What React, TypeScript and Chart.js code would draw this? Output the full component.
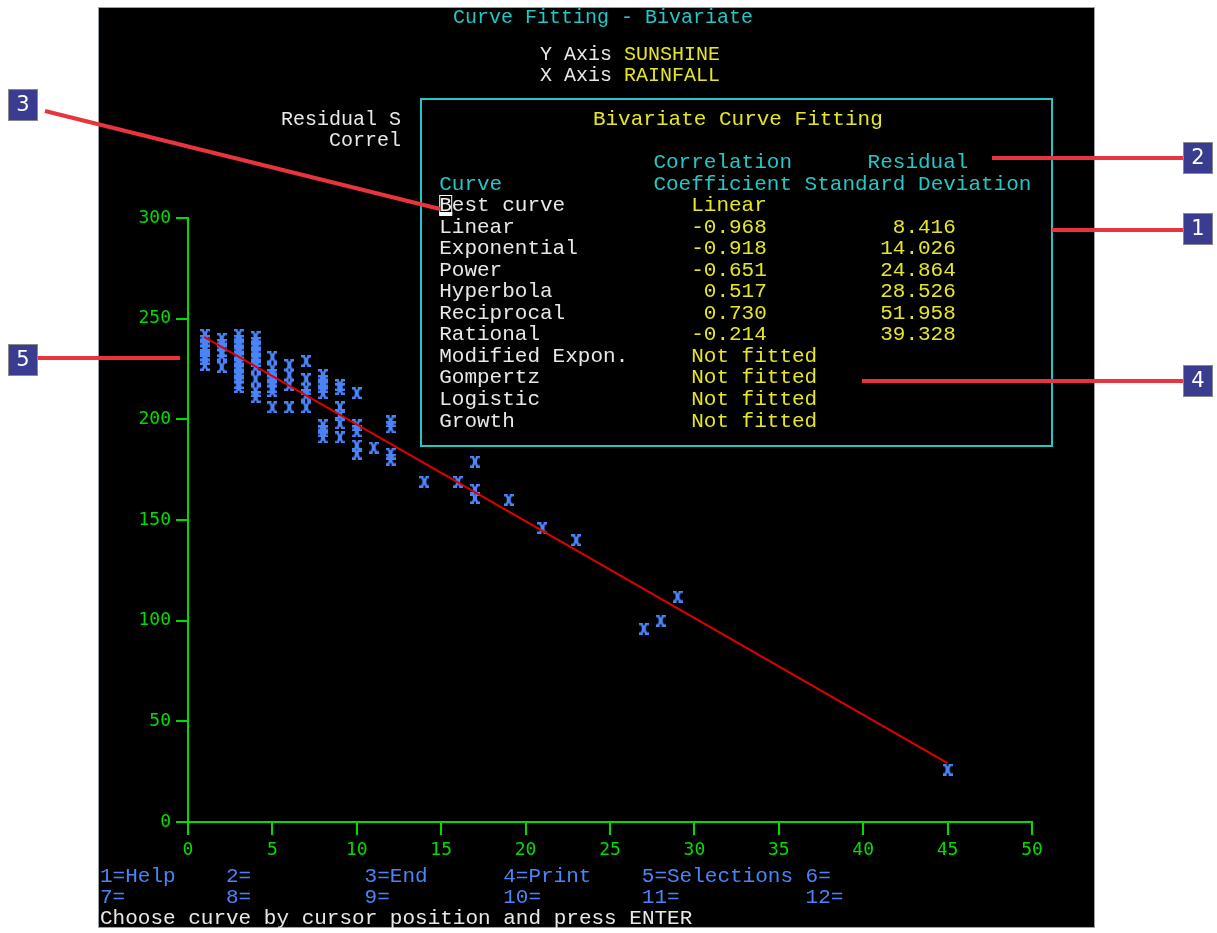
import React, { useEffect, useRef } from "react";
import { Chart, registerables } from "chart.js";

Chart.register(...registerables);

// ---------- data ----------
const rainfall: number[] = [
  1, 1, 1, 1, 1, 1, 1,
  2, 2, 2, 2, 2,
  3, 3, 3, 3, 3, 3, 3, 3, 3, 3,
  4, 4, 4, 4, 4, 4, 4, 4, 4,
  5, 5, 5, 5, 5, 5, 5,
  6, 6, 6, 6,
  7, 7, 7, 7, 7,
  8, 8, 8, 8, 8, 8, 8,
  9, 9, 9, 9, 9, 9,
  10, 10, 10, 10, 10,
  11,
  12, 12, 12, 12,
  14, 16, 17, 17, 17, 19, 21, 23, 27, 28, 29, 45,
];
const sunshine: number[] = [
  242, 239, 236, 234, 232, 230, 227,
  240, 237, 234, 232, 226,
  242, 239, 236, 233, 230, 227, 224, 221, 218, 216,
  241, 238, 235, 232, 229, 226, 220, 214, 211,
  231, 225, 222, 219, 216, 214, 206,
  227, 222, 217, 206,
  229, 220, 215, 212, 206,
  222, 219, 216, 213, 197, 194, 191,
  217, 215, 206, 202, 198, 191,
  213, 197, 194, 187, 183,
  186,
  199, 196, 183, 180,
  169, 169, 179, 165, 161, 160, 146, 140, 96, 100, 112, 26,
];
const fitX: number[] = [0.95, 45];
const fitY: number[] = [241, 29.3];

const xTicks: number[] = [0, 5, 10, 15, 20, 25, 30, 35, 40, 45, 50];
const yTicks: number[] = [0, 50, 100, 150, 200, 250, 300];

const curveNames: string[] = [
  "Linear", "Exponential", "Power", "Hyperbola", "Reciprocal", "Rational",
  "Modified Expon.", "Gompertz", "Logistic", "Growth",
];
const correlations: (string | null)[] = ["-0.968", "-0.918", "-0.651", " 0.517", " 0.730", "-0.214", null, null, null, null];
const residuals: (string | null)[] = ["8.416", "14.026", "24.864", "28.526", "51.958", "39.328", null, null, null, null];
const bestCurve = "Linear";

const fkeyRow1: [number, string][] = [[0, "1=Help"], [10, "2="], [21, "3=End"], [32, "4=Print"], [43, "5=Selections"], [56, "6="]];
const fkeyRow2: [number, string][] = [[0, "7="], [10, "8="], [21, "9="], [32, "10="], [43, "11="], [56, "12="]];

// ---------- styles ----------
const GREEN = "#00dc00";
const BLUE = "#4a84f8";
const CYAN = "#22c8c8";
const YELLOW = "#e6e628";
const WHITE = "#e8e8e8";
const RED_FIT = "#e00000";
const RED_CALL = "#e8343c";
const MONO = '"Liberation Mono", "DejaVu Sans Mono", monospace';

function makeGlyph(): HTMLCanvasElement {
  const c = document.createElement("canvas");
  c.width = 10;
  c.height = 12;
  const g = c.getContext("2d")!;
  g.strokeStyle = BLUE;
  g.lineWidth = 2.4;
  g.beginPath();
  g.moveTo(0, 1.2); g.lineTo(4, 1.2);
  g.moveTo(6, 1.2); g.lineTo(10, 1.2);
  g.moveTo(0, 10.8); g.lineTo(4, 10.8);
  g.moveTo(6, 10.8); g.lineTo(10, 10.8);
  g.moveTo(2.5, 1); g.quadraticCurveTo(6, 6, 2.5, 11);
  g.moveTo(7.5, 1); g.quadraticCurveTo(4, 6, 7.5, 11);
  g.stroke();
  return c;
}

const bgPlugin = {
  id: "bg",
  beforeDraw(chart: any) {
    const ctx = chart.ctx;
    ctx.save();
    ctx.fillStyle = "#ffffff";
    ctx.fillRect(0, 0, chart.width, chart.height);
    ctx.fillStyle = "#000000";
    ctx.fillRect(98, 7, 997, 921);
    ctx.strokeStyle = "#9aa0a8";
    ctx.lineWidth = 1;
    ctx.strokeRect(98.5, 7.5, 996, 920);
    ctx.restore();
  },
};

function callout(ctx: CanvasRenderingContext2D, label: string, bx: number, by: number, x1: number, y1: number, x2: number, y2: number) {
  ctx.strokeStyle = RED_CALL;
  ctx.lineWidth = 4;
  ctx.beginPath();
  ctx.moveTo(x1, y1);
  ctx.lineTo(x2, y2);
  ctx.stroke();
  ctx.fillStyle = "#3a3d8f";
  ctx.fillRect(bx, by, 30, 32);
  ctx.strokeStyle = "#8a8a8a";
  ctx.lineWidth = 1;
  ctx.strokeRect(bx + 0.5, by + 0.5, 29, 31);
  ctx.fillStyle = "#ffffff";
  ctx.font = '21px "DejaVu Sans", sans-serif';
  ctx.textAlign = "center";
  ctx.textBaseline = "middle";
  ctx.fillText(label, bx + 15, by + 17);
}

const overlayPlugin = {
  id: "overlay",
  afterDraw(chart: any) {
    const ctx: CanvasRenderingContext2D = chart.ctx;
    ctx.save();
    ctx.textBaseline = "middle";
    ctx.font = `20px ${MONO}`;

    // header texts
    ctx.fillStyle = CYAN;
    ctx.textAlign = "center";
    ctx.fillText("Curve Fitting - Bivariate", 603, 18);
    ctx.textAlign = "left";
    ctx.fillStyle = WHITE;
    ctx.fillText("Y Axis ", 540, 55);
    ctx.fillText("X Axis ", 540, 76);
    const w7 = ctx.measureText("Y Axis ").width;
    ctx.fillStyle = YELLOW;
    ctx.fillText("SUNSHINE", 540 + w7, 55);
    ctx.fillText("RAINFALL", 540 + w7, 76);
    ctx.fillStyle = WHITE;
    ctx.textAlign = "right";
    ctx.fillText("Residual S", 401, 120);
    ctx.fillText("Correl", 401, 141);

    // box
    ctx.fillStyle = "#000000";
    ctx.fillRect(421, 99, 631, 347);
    ctx.strokeStyle = CYAN;
    ctx.lineWidth = 2;
    ctx.strokeRect(421, 99, 631, 347);

    const cw = 12.6;
    const col = (c: number) => 99 + c * cw;
    ctx.font = `21px ${MONO}`;
    ctx.textAlign = "left";
    ctx.fillStyle = YELLOW;
    ctx.fillText("Bivariate Curve Fitting", col(39.2), 119);
    ctx.fillStyle = CYAN;
    ctx.fillText("Correlation", col(44), 162);
    ctx.fillText("Residual", col(61), 162);
    ctx.fillText("Curve", col(27), 184);
    ctx.fillText("Coefficient Standard Deviation", col(44), 184);
    ctx.fillStyle = WHITE;
    ctx.fillText("Best curve", col(27), 205);
    ctx.fillStyle = YELLOW;
    ctx.fillText(bestCurve, col(47), 205);
    // cursor on B
    ctx.strokeStyle = "#ffffff";
    ctx.lineWidth = 1;
    ctx.strokeRect(col(27) + 0.5, 195.5, 12, 19);
    ctx.fillStyle = "#ffffff";
    ctx.fillRect(col(27), 212, 13, 4);

    curveNames.forEach((name, i) => {
      const y = 227 + i * 21.55;
      ctx.textAlign = "left";
      ctx.fillStyle = WHITE;
      ctx.fillText(name, col(27), y);
      ctx.fillStyle = YELLOW;
      const c = correlations[i];
      const r = residuals[i];
      if (c === null) {
        ctx.fillText("Not fitted", col(47), y);
      } else {
        ctx.textAlign = "right";
        ctx.fillText(c, col(53), y);
        if (r !== null) ctx.fillText(r, col(68), y);
      }
    });

    // bottom function keys
    ctx.textAlign = "left";
    ctx.fillStyle = BLUE;
    fkeyRow1.forEach(([c, t]) => ctx.fillText(t, 100 + c * cw, 876));
    fkeyRow2.forEach(([c, t]) => ctx.fillText(t, 100 + c * cw, 897));
    ctx.fillStyle = WHITE;
    ctx.fillText("Choose curve by cursor position and press ENTER", 100, 918);

    // callouts
    callout(ctx, "3", 8, 89, 45, 111, 440, 209);
    callout(ctx, "5", 8, 344, 38, 358, 180, 358);
    callout(ctx, "2", 1183, 142, 992, 158, 1183, 158);
    callout(ctx, "1", 1183, 213, 1052, 230, 1183, 230);
    callout(ctx, "4", 1183, 365, 862, 381, 1183, 381);
    ctx.restore();
  },
};

export default function App() {
  const ref = useRef<HTMLCanvasElement | null>(null);
  useEffect(() => {
    if (!ref.current) return;
    const glyph = makeGlyph();
    const points = rainfall.map((x, i) => ({ x, y: sunshine[i] }));
    const fit = fitX.map((x, i) => ({ x, y: fitY[i] }));
    const tickFont = { family: '"DejaVu Sans Mono", monospace', size: 18 };
    const chart = new Chart(ref.current, {
      type: "scatter",
      data: {
        datasets: [
          {
            type: "line",
            data: fit,
            borderColor: RED_FIT,
            borderWidth: 2,
            pointRadius: 0,
            fill: false,
            order: 0,
          } as any,
          {
            type: "scatter",
            data: points,
            pointStyle: glyph as any,
            pointRadius: 5,
            order: 1,
          } as any,
        ],
      },
      options: {
        responsive: false,
        animation: false,
        devicePixelRatio: 1,
        layout: { padding: { left: 108, right: 185, top: 218, bottom: 51 } },
        plugins: { legend: { display: false }, tooltip: { enabled: false } },
        scales: {
          x: {
            type: "linear",
            min: 0,
            max: 50,
            afterBuildTicks: (s: any) => { s.ticks = xTicks.map((v) => ({ value: v })); },
            afterFit: (s: any) => { s.height = 60; },
            ticks: { color: GREEN, font: tickFont, padding: 5, maxRotation: 0, autoSkip: false },
            grid: { drawOnChartArea: false, drawTicks: true, tickLength: 13, color: GREEN, lineWidth: 2 },
            border: { color: GREEN, width: 2 },
          },
          y: {
            type: "linear",
            min: 0,
            max: 300,
            afterBuildTicks: (s: any) => { s.ticks = yTicks.map((v) => ({ value: v })); },
            afterFit: (s: any) => { s.width = 80; },
            ticks: { color: GREEN, font: tickFont, padding: 5, autoSkip: false },
            grid: { drawOnChartArea: false, drawTicks: true, tickLength: 12, color: GREEN, lineWidth: 2 },
            border: { color: GREEN, width: 2 },
          },
        },
      } as any,
      plugins: [bgPlugin, overlayPlugin],
    });
    return () => chart.destroy();
  }, []);
  return (
    <div style={{ position: "fixed", left: 0, top: 0, width: 1217, height: 933, background: "#fff" }}>
      <canvas ref={ref} width={1217} height={933} style={{ display: "block", width: 1217, height: 933 }} />
    </div>
  );
}
